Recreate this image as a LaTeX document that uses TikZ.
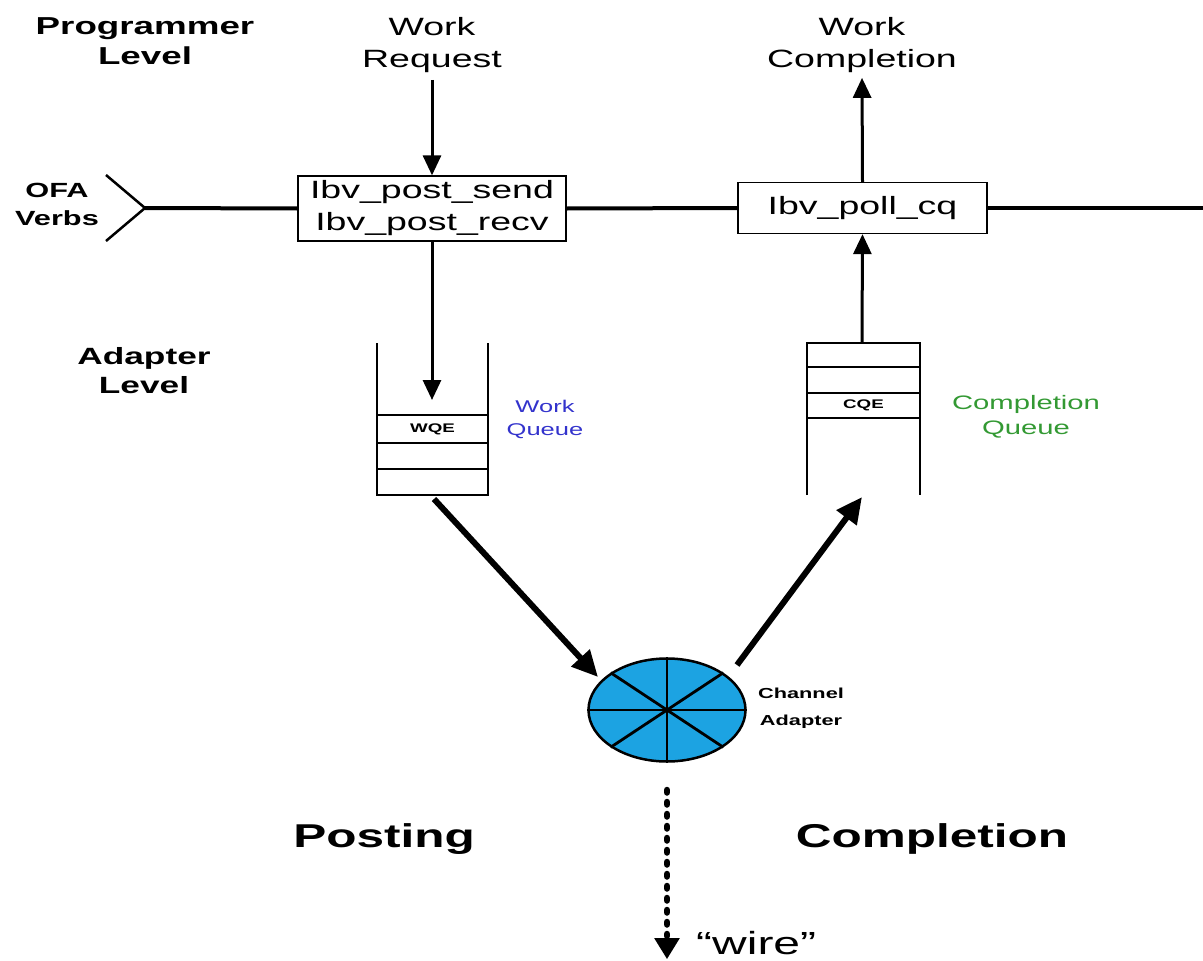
\documentclass[tikz,border=0pt]{standalone}
\usepackage{fontspec}
\setmainfont{Liberation Sans}
\newfontfamily\widefont[FakeStretch=1.5]{Liberation Sans}
\usetikzlibrary{arrows.meta,shapes.geometric}
\definecolor{wqblue}{RGB}{51,51,204}
\definecolor{cqgreen}{RGB}{51,153,51}
\definecolor{cafill}{RGB}{28,163,226}
\tikzset{
  lbl/.style={font=\widefont\bfseries\fontsize{24}{30}\selectfont, align=center, inner sep=0pt},
  txt/.style={font=\widefont\fontsize{25}{32}\selectfont, align=center, inner sep=0pt},
  apibox/.style={draw, line width=1.3pt, font=\widefont\fontsize{25}{32}\selectfont, align=center, inner sep=0pt},
  hline/.style={line width=4pt},
  varrow/.style={line width=3pt, -{Triangle[length=20pt,width=18pt]}},
  darrow/.style={line width=6pt, -{Triangle[length=26pt,width=24pt]}},
  qline/.style={line width=1.8pt},
  celltxt/.style={font=\widefont\bfseries\fontsize{12.5}{14}\selectfont, inner sep=0pt},
  qlbl/.style={font=\widefont\fontsize{19.5}{25}\selectfont, align=center, inner sep=0pt},
  phase/.style={font=\widefont\bfseries\fontsize{33}{38}\selectfont, inner sep=0pt},
  spoke/.style={line width=2.8pt},
}
\begin{document}
\begin{tikzpicture}[x=1pt,y=-1pt]
\useasboundingbox (0,0) rectangle (1203,961);

% level and flow labels
\node[lbl, font=\widefont\bfseries\fontsize{24.5}{30}\selectfont] (prog) at (145,41) {Programmer\\Level};
\node[lbl, font=\widefont\bfseries\fontsize{20.5}{28}\selectfont] (ofa) at (57,204) {OFA\\Verbs};
\node[lbl, font=\widefont\bfseries\fontsize{23.5}{29}\selectfont] (adapt) at (144,371) {Adapter\\Level};
\node[txt] (wreq) at (432,45) {Work\\Request};
\node[txt] (wcomp) at (862,45) {Work\\Completion};

% verbs API boxes
\node[apibox, minimum width=268pt, minimum height=65pt] (send) at (432,208.5)
  {Ibv\_post\_send\\Ibv\_post\_recv};
\node[apibox, minimum width=249pt, minimum height=51pt] (poll) at (862.5,208) {Ibv\_poll\_cq};

% OFA verbs interface line
\coordinate (chev) at (145,208);
\coordinate (rend) at (1203,208);
\draw[line width=2.5pt] (106,175) -- (chev) -- (106,241);
\draw[hline] (chev) -- (send.west);
\draw[hline] (send.east) -- (poll.west);
\draw[hline] (poll.east) -- (rend);

% work queue
\draw[qline] (377,343) -- (377,495) -- (488,495) -- (488,343);
\draw[qline] (377,415) -- (488,415) (377,443) -- (488,443) (377,469) -- (488,469);
\node[celltxt] (wqe) at (432.5,429) {WQE};
\node[qlbl, text=wqblue, font=\widefont\fontsize{17}{23}\selectfont] (wqlbl) at (545,419) {Work\\Queue};
\coordinate (wqin) at (432,400);
\coordinate (wqout) at (434,499);

% completion queue
\draw[qline] (807,495) -- (807,343) -- (920,343) -- (920,495);
\draw[qline] (807,367) -- (920,367) (807,393) -- (920,393) (807,418) -- (920,418);
\node[celltxt] (cqe) at (863.5,405.5) {CQE};
\node[qlbl, text=cqgreen] (cqlbl) at (1026,417) {Completion\\Queue};
\coordinate (cqtop) at (862,343);
\coordinate (cqin) at (862,497);

% channel adapter
\node[ellipse, draw, line width=2.5pt, fill=cafill, minimum width=157pt, minimum height=103pt, inner sep=0pt] (ca) at (667,710) {};
\draw[spoke] (ca.north) -- (ca.south);
\draw[spoke] (ca.west) -- (ca.east);
\draw[spoke] (ca.north west) -- (ca.south east);
\draw[spoke] (ca.north east) -- (ca.south west);
\node[lbl, font=\widefont\bfseries\fontsize{14.5}{27}\selectfont] (calbl) at (801,708) {Channel\\Adapter};
\coordinate (caout) at (737,665);
\coordinate (cain) at (598,677);

% flow arrows
\draw[varrow, shorten <=7pt] (wreq.south) -- (send.north);
\draw[varrow] (send.south) -- (wqin);
\draw[darrow] (wqout) -- (cain);
\draw[darrow] (caout) -- (cqin);
\draw[varrow] (cqtop) -- (poll.south);
\draw[varrow, shorten >=5pt] (poll.north) -- (wcomp.south);

% wire
\coordinate (wtop) at (667,790);
\coordinate (wbot) at (667,959);
\draw[line width=6.5pt, line cap=round, dash pattern=on 2.5pt off 9.5pt] (wtop) -- (667,936);
\draw[line width=3pt, -{Triangle[length=21pt,width=25pt]}] (667,934) -- (wbot);
\node[txt, font=\widefont\fontsize{32}{36}\selectfont, anchor=base west] (wire) at (696,954) {“wire”};

% phase labels
\node[phase] (post) at (384,839) {Posting};
\node[phase] (compl) at (932,839) {Completion};
\end{tikzpicture}
\end{document}
